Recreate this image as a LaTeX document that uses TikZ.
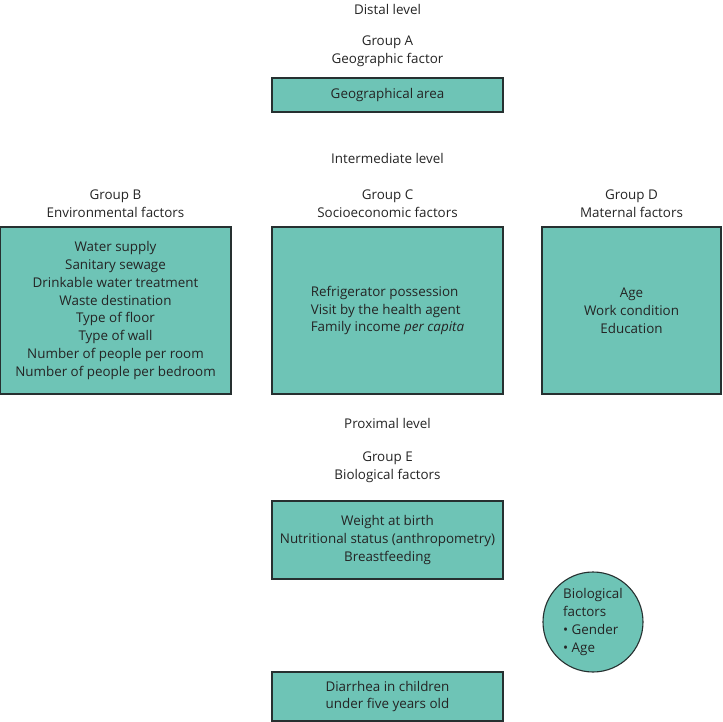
\documentclass[tikz,border=0pt]{standalone}
\usepackage{fontspec}
\setmainfont{Open Sans}
\usetikzlibrary{positioning}
\definecolor{boxfill}{RGB}{110,196,182}
\definecolor{boxline}{RGB}{38,48,48}
\definecolor{txt}{RGB}{36,36,36}
\begin{document}
\begin{tikzpicture}[
    x=1pt, y=-1pt,
    every node/.style={font=\fontsize{13.4}{17.8}\selectfont, text=txt, align=center},
    factorbox/.style={draw=boxline, fill=boxfill, line width=1.1pt, inner sep=0pt},
    levelname/.style={},
    groupname/.style={},
]
\useasboundingbox (0,0) rectangle (723,722);
% distal level
\node[levelname] (distal) at (387.5,9) {Distal level};
\node[groupname] (grpA) at (387.5,51.5) {Group A\\Geographic factor};
\node[factorbox, minimum width=231pt, minimum height=34pt] (boxA) at (387.5,95)
      {Geographical area};
% intermediate level
\node[levelname] (intermediate) at (387.5,158) {Intermediate level};
\node[groupname] (grpB) at (115.5,203.5) {Group B\\Environmental factors};
\node[groupname] (grpC) at (387.5,203.5) {Group C\\Socioeconomic factors};
\node[groupname] (grpD) at (631.5,203.5) {Group D\\Maternal factors};
\node[factorbox, minimum width=231pt, minimum height=167pt] (boxB) at (115.5,310.5)
      {Water supply\\Sanitary sewage\\Drinkable water treatment\\Waste destination\\
       Type of floor\\Type of wall\\Number of people per room\\Number of people per bedroom};
\node[factorbox, minimum width=231pt, minimum height=167pt, align=left] (boxC) at (387.5,310.5)
      {Refrigerator possession\\Visit by the health agent\\Family income \textit{per capita}};
\node[factorbox, minimum width=179pt, minimum height=167pt] (boxD) at (631.5,310.5)
      {Age\\Work condition\\Education};
% proximal level
\node[levelname] (proximal) at (387.5,423) {Proximal level};
\node[groupname] (grpE) at (387.5,467) {Group E\\Biological factors};
\node[factorbox, minimum width=231pt, minimum height=78pt] (boxE) at (387.5,540)
      {Weight at birth\\Nutritional status (anthropometry)\\Breastfeeding};
\node[factorbox, circle, minimum size=100pt, align=left] (bio) at (593,622)
      {Biological\\factors\\\textbullet\ Gender\\\textbullet\ Age};
% outcome
\node[factorbox, minimum width=231pt, minimum height=49pt] (outcome) at (387.5,696.5)
      {Diarrhea in children\\under five years old};
\end{tikzpicture}
\end{document}
